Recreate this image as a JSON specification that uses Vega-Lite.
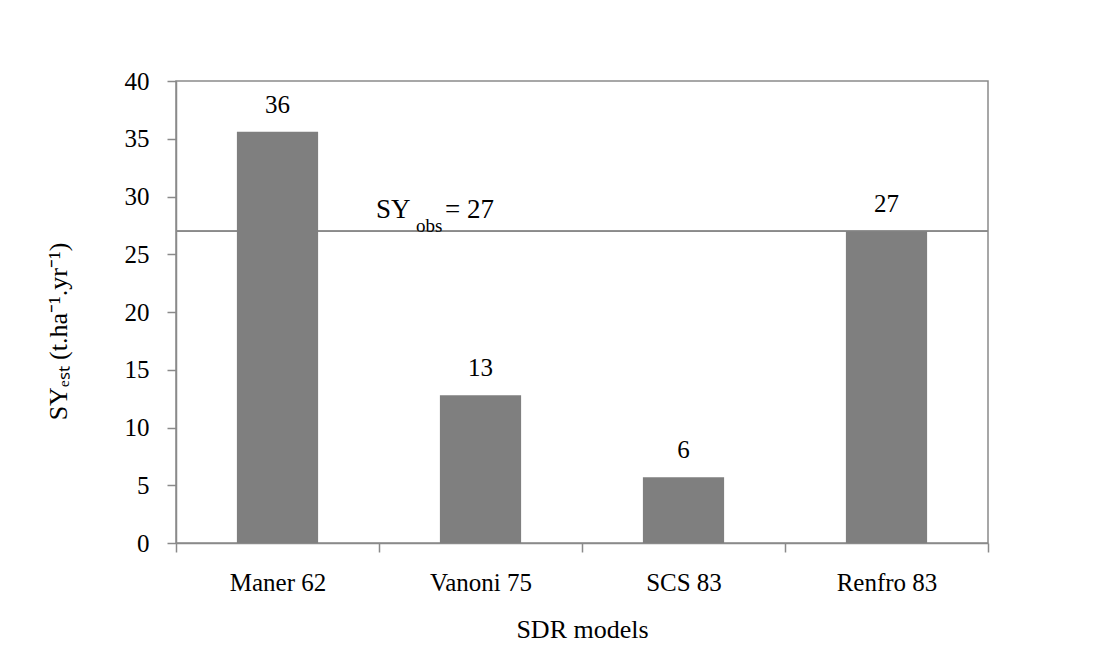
{
  "$schema": "https://vega.github.io/schema/vega-lite/v6.json",
  "autosize": "none",
  "width": 812,
  "height": 462,
  "padding": {"left": 176, "top": 81, "right": 107, "bottom": 114},
  "background": "white",
  "config": {
    "font": "Liberation Serif",
    "text": {"font": "Liberation Serif"},
    "view": {"stroke": "#8a8a8a", "strokeWidth": 1.5},
    "axis": {
      "labelFont": "Liberation Serif",
      "titleFont": "Liberation Serif",
      "labelColor": "black",
      "titleColor": "black",
      "labelFontSize": 25,
      "titleFontSize": 26,
      "titleFontWeight": "normal",
      "domainColor": "#8a8a8a",
      "tickColor": "#8a8a8a",
      "domainWidth": 1.5,
      "tickWidth": 1.5,
      "grid": false
    }
  },
  "data": {
    "values": [
      {"model": "Maner 62", "sy": 35.6},
      {"model": "Vanoni 75", "sy": 12.8},
      {"model": "SCS 83", "sy": 5.7},
      {"model": "Renfro 83", "sy": 27.0}
    ]
  },
  "layer": [
    {
      "mark": {"type": "rule", "color": "#8a8a8a", "strokeWidth": 1.5},
      "encoding": {"y": {"datum": 27, "type": "quantitative"}}
    },
    {
      "mark": {"type": "bar", "color": "#7f7f7f", "width": {"band": 0.4}},
      "encoding": {
        "x": {
          "field": "model",
          "type": "nominal",
          "sort": null,
          "scale": {"paddingInner": 0, "paddingOuter": 0},
          "axis": {
            "title": "SDR models",
            "labelAngle": 0,
            "tickBand": "extent",
            "tickSize": 9,
            "labelBaseline": "alphabetic",
            "labelPadding": 38,
            "titleBaseline": "alphabetic",
            "titlePadding": 42
          }
        },
        "y": {
          "field": "sy",
          "type": "quantitative",
          "scale": {"domain": [0, 40], "nice": false},
          "axis": {
            "title": "SYₑₛₜ (t.ha⁻¹.yr⁻¹)",
            "values": [0, 5, 10, 15, 20, 25, 30, 35, 40],
            "tickSize": 9,
            "labelPadding": 18,
            "titleX": -118,
            "titleY": 250,
            "titleBaseline": "middle",
            "titleAlign": "center"
          }
        }
      }
    },
    {
      "mark": {"type": "text", "font": "Liberation Serif", "fontSize": 25, "baseline": "alphabetic", "dy": -19, "color": "black"},
      "encoding": {
        "x": {"field": "model", "type": "nominal", "sort": null},
        "y": {"field": "sy", "type": "quantitative"},
        "text": {"field": "sy", "type": "quantitative", "format": ".0f"}
      }
    },
    {
      "data": {"values": [{}]},
      "mark": {"type": "text", "font": "Liberation Serif", "fontSize": 27, "align": "left", "baseline": "alphabetic", "dx": -3, "dy": -13, "color": "black"},
      "encoding": {
        "x": {"datum": "Maner 62", "bandPosition": 1},
        "y": {"datum": 27, "type": "quantitative"},
        "text": {"value": "SY"}
      }
    },
    {
      "data": {"values": [{}]},
      "mark": {"type": "text", "font": "Liberation Serif", "fontSize": 19, "align": "left", "baseline": "alphabetic", "dx": 37, "dy": 1, "color": "black"},
      "encoding": {
        "x": {"datum": "Maner 62", "bandPosition": 1},
        "y": {"datum": 27, "type": "quantitative"},
        "text": {"value": "obs"}
      }
    },
    {
      "data": {"values": [{}]},
      "mark": {"type": "text", "font": "Liberation Serif", "fontSize": 27, "align": "left", "baseline": "alphabetic", "dx": 66, "dy": -13, "color": "black"},
      "encoding": {
        "x": {"datum": "Maner 62", "bandPosition": 1},
        "y": {"datum": 27, "type": "quantitative"},
        "text": {"value": "= 27"}
      }
    }
  ]
}
